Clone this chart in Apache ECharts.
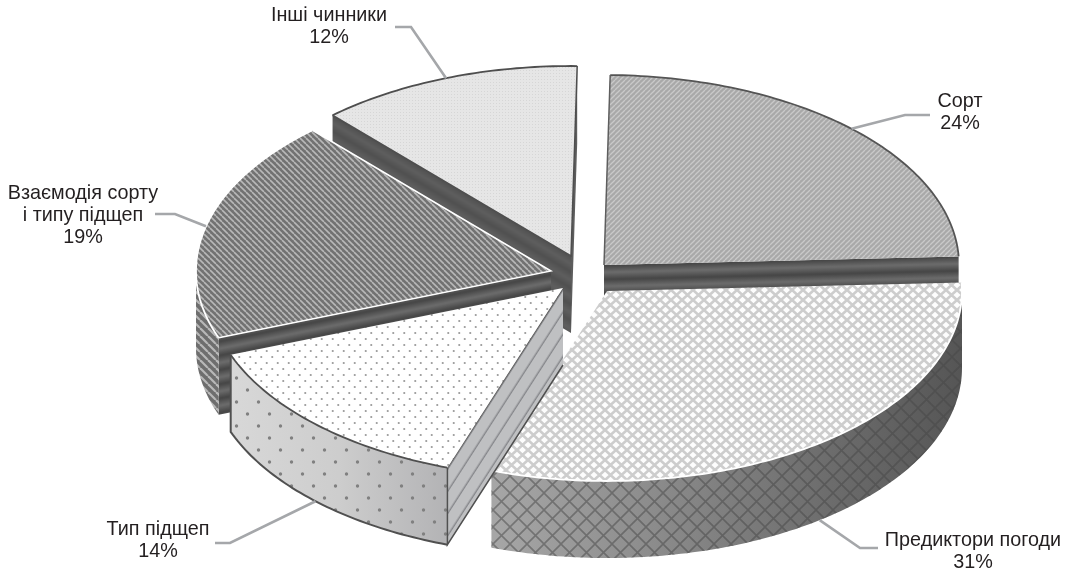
<!DOCTYPE html>
<html>
<head>
<meta charset="utf-8">
<style>html,body{margin:0;padding:0;background:#fff}#chart{width:1072px;height:572px}</style>
<script src="https://cdn.jsdelivr.net/npm/echarts@6/dist/echarts.min.js"></script>
</head>
<body>
<div id="chart"></div>
<script>
// Shares of influence on the yield, per cent
const categories = ['Сорт', 'Предиктори погоди', 'Тип підщеп', 'Взаємодія сорту\nі типу підщеп', 'Інші чинники'];
const shares = [24, 31, 14, 19, 12];

// Pie geometry: centre, ellipse radii, extrusion depth, first-slice angle (degrees clockwise from 12 o'clock)
const CX = 585, CY = 275, RX = 355, RY = 190, DEPTH = 77, START_DEG = 1.0;
// How far each slice is pulled out of the pie
const explode = [[19, -10], [22, 16], [-22, 13], [-34, -4], [-14, -19]];
// Back-to-front painting order
const paintRank = [1, 3, 4, 2, 0];
// Label centre/top and leader bends
const labelAt = [[960, 90], [973, 529], [158, 518], [83, 182], [329, 4]];
const leaderBends = [
  [[905, 115], [930, 115]],
  [[860, 548], [878, 548]],
  [[230, 543], [215, 543]],
  [[175, 214], [155, 214]],
  [[411, 27], [395, 27]]
];

function tile(w, h, draw) {
  const c = document.createElement('canvas');
  c.width = w; c.height = h;
  draw(c.getContext('2d'), w, h);
  return c;
}
function diag(ctx, p, dir, color, width) {
  ctx.strokeStyle = color; ctx.lineWidth = width;
  for (let i = -1; i <= 1; i++) {
    ctx.beginPath();
    if (dir > 0) { ctx.moveTo(i * p, p); ctx.lineTo(i * p + p, 0); }
    else { ctx.moveTo(i * p, 0); ctx.lineTo(i * p + p, p); }
    ctx.stroke();
  }
}
function pattern(canvas, rotation) {
  return { image: canvas, repeat: 'repeat', rotation: rotation || 0 };
}
const hatchUp = tile(5, 5, (c, w, h) => { c.fillStyle = '#a9a9a9'; c.fillRect(0, 0, w, h); diag(c, 5, 1, '#c9c9c9', 1.3); });
const hatchDown = tile(6, 6, (c, w, h) => { c.fillStyle = '#727272'; c.fillRect(0, 0, w, h); diag(c, 6, -1, '#b8b8b8', 1.6); });
const hatchWall = tile(8, 8, (c, w, h) => { c.fillStyle = '#6e6e6e'; c.fillRect(0, 0, w, h); diag(c, 8, -1, '#b8b8b8', 2.2); });
const lattice = tile(11, 10, (c, w, h) => {
  c.fillStyle = '#fdfdfd'; c.fillRect(0, 0, w, h);
  c.strokeStyle = '#cdcdcd'; c.lineWidth = 2.6;
  c.beginPath();
  c.moveTo(-1, -1); c.lineTo(w + 1, h + 1); c.moveTo(w + 1, -1); c.lineTo(-1, h + 1);
  c.stroke();
});
const latticeWall = tile(17, 17, (c, w, h) => {
  c.strokeStyle = 'rgba(70,70,70,0.5)'; c.lineWidth = 1.6;
  c.beginPath();
  c.moveTo(0, 0); c.lineTo(w, h); c.moveTo(w, 0); c.lineTo(0, h);
  c.stroke();
});
function dots(w, h, r, color, bg) {
  return tile(w, h, c => {
    if (bg) { c.fillStyle = bg; c.fillRect(0, 0, w, h); }
    c.fillStyle = color;
    [[w * 0.25, h * 0.25], [w * 0.75, h * 0.75]].forEach(d => {
      c.beginPath(); c.arc(d[0], d[1], r, 0, 7); c.fill();
    });
  });
}
const dotsTop = dots(11, 12, 1.1, '#9a9a9a', '#ffffff');
const dotsWall = dots(22, 24, 1.7, '#808080');
const fine = tile(3, 3, (c, w, h) => {
  c.fillStyle = '#e6e6e6'; c.fillRect(0, 0, w, h);
  c.fillStyle = '#d6d6d6'; c.fillRect(1, 1, 1, 1);
});
function bands(dark, light) {
  return tile(4, 14, (c, w, h) => {
    const g = c.createLinearGradient(0, 0, 0, h);
    g.addColorStop(0, dark); g.addColorStop(0.5, light); g.addColorStop(1, dark);
    c.fillStyle = g; c.fillRect(0, 0, w, h);
  });
}
const darkBands = bands('#454545', '#6c6c6c');
const softBands = bands('#505050', '#5e5e5e');
const ruled = tile(4, 12, (c, w, h) => {
  c.fillStyle = '#bfc0c2'; c.fillRect(0, 0, w, h);
  c.fillStyle = '#85868a'; c.fillRect(0, 5, w, 1.4);
});

function linearX(x, x2, stops) {
  return {
    type: 'linear', global: true, x: x, y: 0, x2: x2, y2: 0,
    colorStops: stops.map((s, i) => ({ offset: i / (stops.length - 1), color: s }))
  };
}

// Appearance per slice
const topFill = [pattern(hatchUp), pattern(lattice), pattern(dotsTop), pattern(hatchDown), pattern(fine)];
const rimColor = ['#555555', '#ffffff', '#4f4f4f', '#ffffff', '#4e4e4e'];
const wallBase = [null, linearX(495, 965, ['#a6a6a6', '#8c8c8c', '#707070', '#555555']), linearX(230, 447, ['#d8d8d8', '#cdcdcd', '#b3b3b5']), pattern(hatchWall), null];
const wallOverlay = [null, pattern(latticeWall), pattern(dotsWall), null, null];
const cutTile = [darkBands, null, ruled, darkBands, softBands];

const total = shares.reduce((a, b) => a + b, 0);
const rad = d => d * Math.PI / 180;

function sliceStart(i) {
  let sum = 0;
  for (let k = 0; k < i; k++) sum += shares[k];
  return START_DEG + sum / total * 360;
}

function renderSlice(params, api) {
  const i = params.dataIndex;
  const value = api.value(0);
  const t0 = sliceStart(i), t1 = t0 + value / total * 360;
  const ax = CX + explode[i][0], ay = CY + explode[i][1];
  const pt = (t, dz) => [ax + RX * Math.sin(rad(t)), ay - RY * Math.cos(rad(t)) + (dz || 0)];
  const arc = (a, b, dz) => {
    const out = [];
    const n = Math.max(1, Math.ceil(Math.abs(b - a)));
    for (let k = 0; k <= n; k++) out.push(pt(a + (b - a) * k / n, dz));
    return out;
  };
  const z = paintRank[i] * 10;
  const kids = [];

  // Flat cut faces that turn towards the viewer
  const addCut = (t, normalDeg) => {
    if (-Math.cos(rad(normalDeg)) <= 0 || !cutTile[i]) return;
    const p = pt(t);
    const slope = Math.atan2(p[1] - ay, p[0] - ax);
    kids.push({
      type: 'polygon', z2: z + 1,
      shape: { points: [[ax, ay], p, [p[0], p[1] + DEPTH], [ax, ay + DEPTH]] },
      style: { fill: pattern(cutTile[i], slope) }
    });
    if (i === 2) {
      kids.push({
        type: 'polyline', z2: z + 5,
        shape: { points: [[ax, ay], p, [p[0], p[1] + DEPTH], [ax, ay + DEPTH]] },
        style: { fill: 'none', stroke: '#505050', lineWidth: 1.5 }
      });
    }
  };
  addCut(t0, t0 - 90);
  addCut(t1, t1 + 90);

  // Outer rounded wall, front half only
  const w0 = Math.max(t0, 90), w1 = Math.min(t1, 270);
  if (w1 > w0 && wallBase[i]) {
    const top = arc(w0, w1, 0), bottom = arc(w1, w0, DEPTH);
    const outline = top.concat(bottom);
    kids.push({ type: 'polygon', z2: z + 2, shape: { points: outline }, style: { fill: wallBase[i] } });
    if (wallOverlay[i]) kids.push({ type: 'polygon', z2: z + 3, shape: { points: outline }, style: { fill: wallOverlay[i] } });
    if (i === 2) {
      kids.push({
        type: 'polyline', z2: z + 5, shape: { points: [pt(w1), pt(w1, DEPTH)].concat(arc(w1, w0, DEPTH)) },
        style: { fill: 'none', stroke: '#505050', lineWidth: 2 }
      });
    }
  }

  // Upper face
  const rim = arc(t0, t1, 0);
  kids.push({ type: 'polygon', z2: z + 6, shape: { points: [[ax, ay]].concat(rim) }, style: { fill: topFill[i] } });
  kids.push({
    type: 'polyline', z2: z + 7, shape: { points: rim },
    style: { fill: 'none', stroke: rimColor[i], lineWidth: 1.8 }
  });
  // Cut edges of the upper face
  if (i === 3) {
    kids.push({ type: 'polyline', z2: z + 7, shape: { points: [pt(t0), [ax, ay], pt(t1)] }, style: { fill: 'none', stroke: '#fff', lineWidth: 1.5 } });
  } else if (i === 0) {
    kids.push({ type: 'polyline', z2: z + 7, shape: { points: [[ax, ay], pt(t0)] }, style: { fill: 'none', stroke: '#5e5e5e', lineWidth: 1.5 } });
  } else if (i === 4) {
    kids.push({ type: 'polyline', z2: z + 7, shape: { points: [pt(t0), [ax, ay], pt(t1)] }, style: { fill: 'none', stroke: '#4e4e4e', lineWidth: 1.5 } });
  }

  // Leader and label
  const mid = (t0 + t1) / 2;
  const anchor = pt(mid, Math.cos(rad(mid)) < 0 ? DEPTH : 0);
  kids.push({
    type: 'polyline', z2: 100,
    shape: { points: [anchor].concat(leaderBends[i]) },
    style: { fill: 'none', stroke: '#a5a7aa', lineWidth: 2.6 }
  });
  kids.push({
    type: 'text', z2: 101,
    style: {
      x: labelAt[i][0], y: labelAt[i][1],
      text: categories[i] + '\n' + value + '%',
      align: 'center', verticalAlign: 'top',
      fontFamily: 'Liberation Sans', fontSize: 19.8, lineHeight: 22.4, fill: '#231f20'
    }
  });
  return { type: 'group', children: kids };
}

const chart = echarts.init(document.getElementById('chart'), null, { renderer: 'canvas' });
chart.setOption({
  backgroundColor: '#ffffff',
  animation: false,
  series: [{
    type: 'custom',
    coordinateSystem: 'none',
    renderItem: renderSlice,
    data: shares.map(v => [v]),
    silent: true
  }]
});
</script>
</body>
</html>
